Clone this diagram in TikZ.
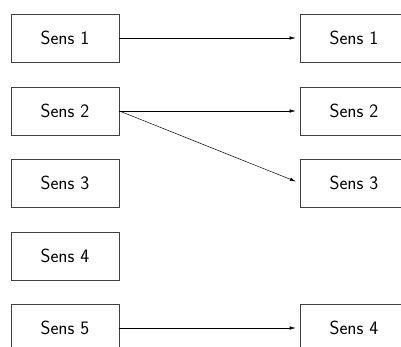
\documentclass[tikz,border=0pt]{standalone}
\usetikzlibrary{arrows.meta}
\begin{document}
\begin{tikzpicture}[x=1pt,y=-1pt,
  sbox/.style={draw=black!75,line width=0.8pt,minimum width=108pt,minimum height=48pt,inner sep=0pt,font=\sffamily\fontsize{19}{21}\selectfont},
  conn/.style={-{Latex[length=6pt,width=3.5pt]},line width=0.5pt,shorten >=4pt}]
\useasboundingbox (0,0) rectangle (401,347);
\node[sbox] (l1) at (65,38) {Sens 1};
\node[sbox] (l2) at (65,111) {Sens 2};
\node[sbox] (l3) at (65,183) {Sens 3};
\node[sbox] (l4) at (65,256) {Sens 4};
\node[sbox] (l5) at (65,328) {Sens 5};
\node[sbox] (r1) at (354,38) {Sens 1};
\node[sbox] (r2) at (354,111) {Sens 2};
\node[sbox] (r3) at (354,183) {Sens 3};
\node[sbox] (r4) at (354,328) {Sens 4};
\draw[conn] (l1) -- (r1);
\draw[conn] (l2) -- (r2);
\draw[conn] (l2.east) -- (r3.west);
\draw[conn] (l5) -- (r4);
\end{tikzpicture}
\end{document}
